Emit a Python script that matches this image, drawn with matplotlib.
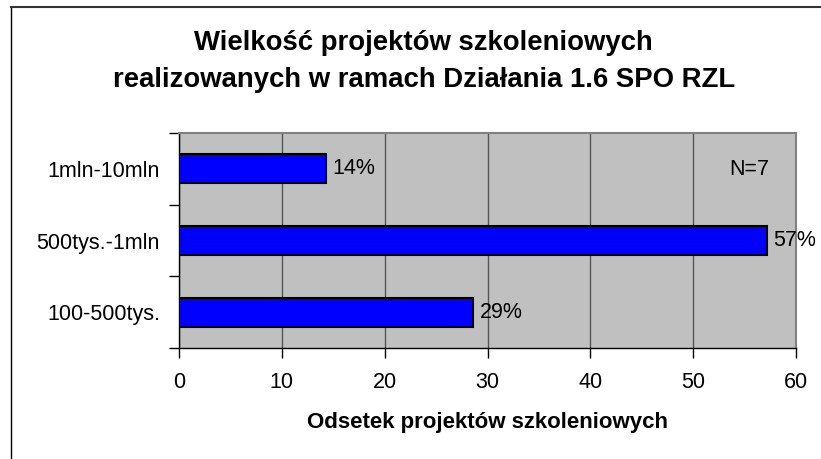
import matplotlib
matplotlib.use("Agg")
import matplotlib.pyplot as plt
from matplotlib.lines import Line2D

categories = ["100-500tys.", "500tys.-1mln", "1mln-10mln"]
values = [28.57, 57.14, 14.29]
labels = ["29%", "57%", "14%"]
xticks = [0, 10, 20, 30, 40, 50, 60]

plt.rcParams['font.family'] = ['Liberation Sans', 'DejaVu Sans']

W, H = 821, 459
FS = 15.5
fig = plt.figure(figsize=(W / 100, H / 100), dpi=100)
ax = fig.add_axes([179 / W, 1 - 348 / H, (796 - 179) / W, (348 - 133) / H])
ax.set_facecolor('#C0C0C0')

y = list(range(len(categories)))
ax.barh(y, values, height=0.4, color='#0000FF', edgecolor='black', linewidth=1.5, zorder=3)
for yi, v, lab in zip(y, values, labels):
    ax.text(v + 0.65, yi, lab, va='center', ha='left', fontsize=FS, zorder=4)

ax.set_xlim(0, 60)
ax.set_ylim(-0.5, 2.5)
ax.set_xticks(xticks)
ax.set_xticklabels([str(t) for t in xticks], fontsize=FS)
ax.set_yticks(y)
ax.set_yticklabels(categories, fontsize=FS)
ax.set_yticks([-0.5, 0.5, 1.5, 2.5], minor=True)
ax.tick_params(axis='y', which='major', length=0, pad=13.7)
ax.tick_params(axis='y', which='minor', length=7, width=1, direction='out', color='black')
ax.tick_params(axis='x', which='major', length=7, width=1, direction='out', color='black', pad=10)
ax.grid(axis='x', color='#555555', linewidth=1, zorder=1)
ax.set_axisbelow(True)
for s in ['top', 'right']:
    ax.spines[s].set_color('#808080')
    ax.spines[s].set_linewidth(1.5)
for s in ['left', 'bottom']:
    ax.spines[s].set_color('black')
    ax.spines[s].set_linewidth(1)

ax.text(0.925, 0.83, "N=7", transform=ax.transAxes, ha='center', va='center', fontsize=FS)

ax.set_xlabel("Odsetek projektów szkoleniowych", fontsize=16, fontweight='bold', va='baseline')
ax.xaxis.set_label_coords(0.5, (348 - 428) / 215)

fig.text(423 / W, 1 - 50 / H, "Wielkość projektów szkoleniowych", ha='center', va='baseline',
         fontsize=19.8, fontweight='bold')
fig.text(424 / W, 1 - 87 / H, "realizowanych w ramach Działania 1.6 SPO RZL", ha='center', va='baseline',
         fontsize=19.8, fontweight='bold')

fig.add_artist(Line2D([11 / W, 11 / W], [0, 1 - 7 / H], transform=fig.transFigure, color='black', lw=1))
fig.add_artist(Line2D([11 / W, 1], [1 - 7 / H, 1 - 7 / H], transform=fig.transFigure, color='#333333', lw=1.5))

fig.savefig("out.png", dpi=100)
